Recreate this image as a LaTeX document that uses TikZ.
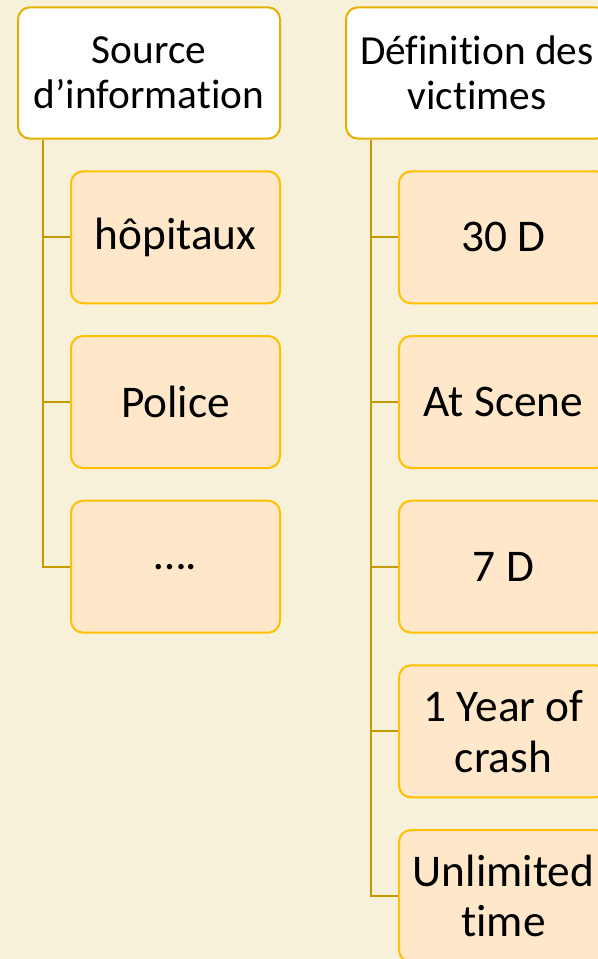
\documentclass[tikz,border=0pt]{standalone}
\usepackage{fontspec}
\setmainfont{Carlito}[Ligatures=NoCommon]
\usepackage{xcolor}
\usepackage{tikz}
\usetikzlibrary{positioning}
\definecolor{bgc}{RGB}{247,241,217}
\definecolor{hdl}{RGB}{230,176,0}
\definecolor{gld}{RGB}{255,192,0}
\definecolor{itm}{RGB}{255,232,202}
\definecolor{lnk}{RGB}{196,154,0}

\begin{document}
\begin{tikzpicture}[node distance=23pt and 48pt,
  hdr/.style={draw=hdl,line width=1.5pt,rounded corners=9pt,fill=white,minimum width=196.5pt,minimum height=98.5pt,align=center,inner sep=0pt,font=\fontsize{31}{33.75}\selectfont},
  itembox/.style={draw=gld,line width=1.5pt,rounded corners=9pt,fill=itm,minimum width=156.75pt,minimum height=99pt,align=center,inner sep=0pt,font=\fontsize{34}{38}\selectfont},
  link/.style={draw=lnk,line width=1.6pt}]
  \fill[bgc] (0,0) rectangle (448.5pt,-719.25pt);
  \useasboundingbox (0,0) rectangle (448.5pt,-719.25pt);
  \node[hdr,anchor=north west] (src) at (12.75pt,-4.75pt) {Source\\d’information};
  \node[itembox,below=of src.south east,anchor=north east] (hop) {hôpitaux};
  \node[itembox,below=of hop] (pol) {Police};
  \node[itembox,below=of pol] (etc) {….};
  \node[hdr,right=of src] (def) {Définition des\\victimes};
  \node[itembox,below=of def.south east,anchor=north east] (d30) {30 D};
  \node[itembox,below=of d30] (scn) {At Scene};
  \node[itembox,below=of scn] (d7) {7 D};
  \node[itembox,below=of d7] (yr) {1 Year of\\crash};
  \node[itembox,below=of yr] (unl) {Unlimited\\time};
  \foreach \c in {hop,pol,etc}
    \draw[link] ([xshift=19.5pt]src.south west) |- (\c.west);
  \foreach \c in {d30,scn,d7,yr,unl}
    \draw[link] ([xshift=19.5pt]def.south west) |- (\c.west);
\end{tikzpicture}
\end{document}
